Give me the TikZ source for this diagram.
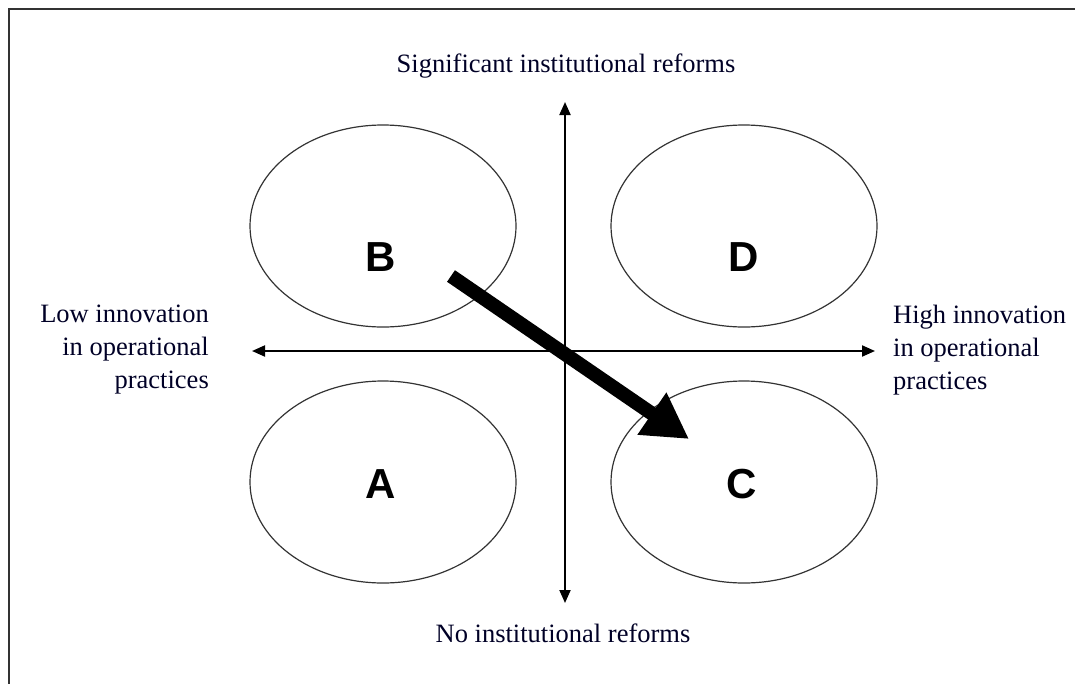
\documentclass[tikz,border=0pt]{standalone}
\usepackage{fontspec}
\setmainfont{Liberation Serif}
\newfontfamily\labelfont{Liberation Sans}
\usetikzlibrary{arrows.meta,shapes.geometric}
\tikzset{
  quad/.style={ellipse,draw=black!80,line width=1.2pt,minimum width=266pt,minimum height=202pt,inner sep=0pt},
  qlabel/.style={font=\labelfont\bfseries\fontsize{42pt}{42pt}\selectfont,inner sep=0pt},
  axis/.style={line width=2pt,-{Triangle[length=13pt,width=11pt]}},
  axtext/.style={font=\fontsize{26.5pt}{33pt}\selectfont,text=black!85!blue,inner sep=0pt},
  bigarrow/.style={line width=14pt,-{Triangle[length=45pt,width=48pt]}},
  frame/.style={line width=2.5pt,draw=black!80}
}
\begin{document}
\begin{tikzpicture}[x=1pt,y=-1pt]
\useasboundingbox (0,0) rectangle (1075,683);
\draw[frame] (9,690) -- (9,9) -- (1080,9);
% ellipses
\node[quad] (B) at (383,226) {};
\node[quad] (D) at (744,226) {};
\node[quad] (A) at (383,482) {};
\node[quad] (C) at (744,482) {};
\node[qlabel] (lB) at (381,257) {B};
\node[qlabel] (lD) at (744,257) {D};
\node[qlabel] (lA) at (381,484) {A};
\node[qlabel] (lC) at (742,484) {C};
% axes
\coordinate (O) at (565,351);
\coordinate (left) at (252,351);
\coordinate (right) at (875,351);
\coordinate (up) at (565,102);
\coordinate (down) at (565,603);
\draw[axis] (O) -- (left);
\draw[axis] (O) -- (right);
\draw[axis] (O) -- (up);
\draw[axis] (O) -- (down);
% texts
\node[axtext] (top) at (566,66) {Significant institutional reforms};
\node[axtext] (bottom) at (563,633) {No institutional reforms};
\node[axtext,align=right,anchor=east] (lefttext) at (209,350) {Low innovation\\in operational\\practices};
\node[axtext,align=left,anchor=west] (righttext) at (893,350) {High innovation\\in operational\\practices};
% big arrow
\coordinate (tail) at (451,276);
\coordinate (tip) at (689,439);
\draw[bigarrow] (tail) -- (tip);
\end{tikzpicture}
\end{document}
